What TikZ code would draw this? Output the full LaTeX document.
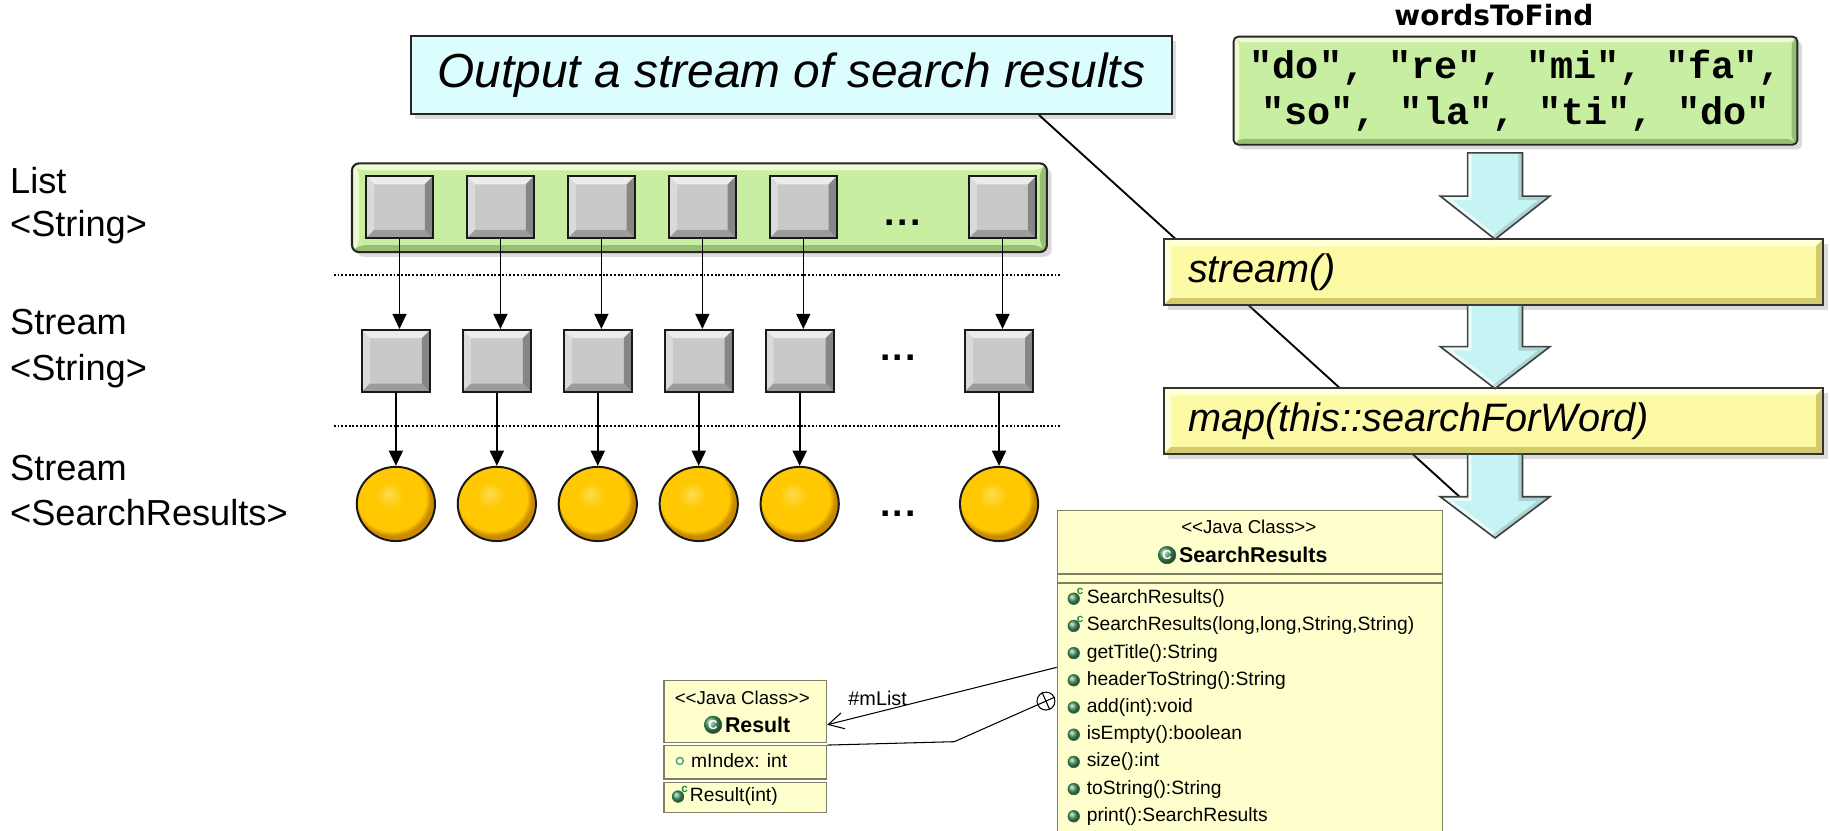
\documentclass[tikz,border=0pt]{standalone}
\usepackage{fontspec}
\setmainfont{Liberation Sans}
\newfontfamily\monob{Liberation Mono}
\newfontfamily\dejab{DejaVu Sans}
\newfontfamily\umlfont{Liberation Sans}
\usetikzlibrary{arrows.meta,shadows,shapes.geometric,calc}

\definecolor{sqgray}{HTML}{C9C9C9}
\definecolor{sqlight}{HTML}{ECECEC}
\definecolor{sqmidl}{HTML}{DADADA}
\definecolor{sqmidd}{HTML}{9C9C9C}
\definecolor{sqdark}{HTML}{868686}
\definecolor{grn}{HTML}{C8EEA2}
\definecolor{grnlight}{HTML}{EFFCD2}
\definecolor{grndark}{HTML}{98BD74}
\definecolor{yel}{HTML}{FCFAA4}
\definecolor{yellight}{HTML}{FFFFD8}
\definecolor{yeldark}{HTML}{D2CB6E}
\definecolor{cyanbox}{HTML}{DCFDFD}
\definecolor{arrcyan}{HTML}{C6F3F3}
\definecolor{umlfill}{HTML}{FFFFCE}
\definecolor{umlline}{HTML}{7F7F62}
\definecolor{icongreen}{HTML}{4E9F6A}
\definecolor{icondark}{HTML}{2E7046}
\definecolor{ctorgreen}{HTML}{1E8C3C}
\definecolor{ballc}{HTML}{FFC800}
\definecolor{ballhi}{HTML}{FFDC50}
\definecolor{balldark}{HTML}{C98A00}

\pgfdeclareradialshading{ballshade}{\pgfpoint{-5bp}{7bp}}{color(0bp)=(ballhi); color(9bp)=(ballc); color(22bp)=(ballc); color(25bp)=(balldark); color(50bp)=(balldark)}

\newcommand\fatarrow[4]{%
  \filldraw[fatarr, path picture={
      \draw[white, line width=7pt, opacity=0.6] (#1-23.5,#2) -- (#1-23.5,#3) -- (#1-47,#3) -- (#1,#4);
      \draw[black, line width=7pt, opacity=0.13] (#1+23.5,#2) -- (#1+23.5,#3) -- (#1+47,#3) -- (#1,#4);
    }] (#1-23.5,#2) -- (#1+23.5,#2) -- (#1+23.5,#3) -- (#1+47,#3) -- (#1,#4) -- (#1-47,#3) -- (#1-23.5,#3) -- cycle;}

\tikzset{
  bevel/.style n args={5}{path picture={
    \coordinate (bNW) at (path picture bounding box.north west);
    \coordinate (bSE) at (path picture bounding box.south east);
    \coordinate (bNE) at (bNW -| bSE);
    \coordinate (bSW) at (bNW |- bSE);
    \coordinate (iNW) at ([xshift=#5pt,yshift=-#5pt]bNW);
    \coordinate (iNE) at ([xshift=-#5pt,yshift=-#5pt]bNE);
    \coordinate (iSE) at ([xshift=-#5pt,yshift=#5pt]bSE);
    \coordinate (iSW) at ([xshift=#5pt,yshift=#5pt]bSW);
    \fill[#1] (bNW) -- (bNE) -- (iNE) -- (iNW) -- cycle;
    \fill[#2] (bNW) -- (iNW) -- (iSW) -- (bSW) -- cycle;
    \fill[#3] (bSW) -- (iSW) -- (iSE) -- (bSE) -- cycle;
    \fill[#4] (bNE) -- (bSE) -- (iSE) -- (iNE) -- cycle;
  }},
  shad/.style={drop shadow={shadow xshift=4pt,shadow yshift=-4pt,opacity=0.28}},
  sqbox/.style={rectangle, draw=black!90, line width=1.8pt, fill=sqgray, inner sep=0pt,
    minimum width=57.4pt, minimum height=53pt, bevel={sqlight}{sqmidl}{sqmidd}{sqdark}{7}},
  sqboxb/.style={sqbox, minimum width=58.5pt, minimum height=52.8pt},
  contbox/.style={rectangle, rounded corners=6pt, draw=black!85, line width=1.8pt, fill=grn,
    minimum width=595.4pt, minimum height=76pt, inner sep=0pt, shad,
    bevel={grnlight}{grnlight}{grndark}{grndark}{6}},
  ballnode/.style={ellipse, draw=black!90, line width=1.7pt, shade, shading=ballshade,
    minimum width=67pt, minimum height=63.6pt, inner sep=0pt},
  arr/.style={line width=1.4pt, -{Triangle[length=13pt,width=12pt]}},
  dotline/.style={line width=1.5pt, dash pattern=on 1.6pt off 1.6pt},
  dots/.style={inner sep=0pt, font=\bfseries\fontsize{32}{36}\selectfont},
  lbl/.style={anchor=base west, inner sep=0pt, font=\fontsize{31}{36}\selectfont},
  calloutbox/.style={rectangle, draw=black!85, line width=1.5pt, fill=cyanbox, shad,
    minimum width=652pt, minimum height=67pt, inner sep=0pt,
    font=\fontsize{41}{48}\selectfont\itshape},
  wordsbox/.style={rectangle, rounded corners=4pt, draw=black!85, line width=1.6pt, fill=grn, shad,
    bevel={grnlight}{grnlight}{grndark}{grndark}{5},
    minimum width=483pt, minimum height=92.6pt, inner sep=0pt, align=center,
    font=\monob\bfseries\fontsize{33}{39}\selectfont},
  yelbox/.style={rectangle, draw=black!80, line width=1.6pt, fill=yel, shad,
    bevel={yellight}{yellight}{yeldark}{yeldark}{6},
    minimum height=56.4pt, text width=523pt, inner xsep=21pt, inner ysep=0pt, align=left,
    font=\fontsize{34}{40}\selectfont\itshape},
  fatarr/.style={fill=arrcyan, draw=black!75, line width=1.4pt, line join=miter},
  calloutline/.style={line width=1.6pt, black},
  umlbox/.style={rectangle, draw=umlline, line width=1pt, fill=umlfill, inner sep=0pt, anchor=north west},
  member/.style={anchor=west, inner sep=0pt, font=\umlfont\fontsize{16.5}{20}\selectfont},
  stereo/.style={inner sep=0pt, font=\umlfont\fontsize{16}{20}\selectfont},
  cname/.style={anchor=west, inner sep=0pt, font=\umlfont\bfseries\fontsize{18.3}{22}\selectfont},
  micon/.style={circle, inner sep=0pt, minimum size=10pt, ball color=icongreen, draw=icondark, line width=0.5pt},
  cicon/.style={circle, inner sep=0pt, minimum size=15pt, ball color=icongreen, draw=icondark, line width=0.5pt,
    text=white, font=\umlfont\bfseries\fontsize{11}{11}\selectfont},
  ficon/.style={circle, inner sep=0pt, minimum size=6pt, fill=white, draw=icongreen, line width=1.2pt},
  ctorc/.style={inner sep=0pt, text=ctorgreen, font=\umlfont\bfseries\fontsize{10}{10}\selectfont},
  umlconn/.style={line width=0.9pt, black},
  nestc/.style={circle, draw=black, fill=white, line width=0.9pt, minimum size=15.4pt, inner sep=0pt},
}

\begin{document}
\begin{tikzpicture}[x=1pt,y=-1pt]
\useasboundingbox (0,0) rectangle (1568,712);
\fill[white] (0,0) rectangle (1568,712);

% row labels
\node[lbl] (l1a) at (8.5,165.6) {List};
\node[lbl] (l1b) at (8.5,203) {<String>};
\node[lbl] (l2a) at (8.5,287) {Stream};
\node[lbl] (l2b) at (8.5,326) {<String>};
\node[lbl] (l3a) at (8.5,412) {Stream};
\node[lbl] (l3b) at (8.5,450) {<SearchResults>};

% separators
\draw[dotline] (286,235.7) -- (908,235.7);
\draw[dotline] (286,364.7) -- (908,364.7);

% list container
\node[contbox] (list) at (599.3,178) {};

\foreach \k in {0,...,4} {
  \node[sqbox] (a\k) at (342.3+86.5*\k,177.5) {};
  \node[sqboxb] (b\k) at (339.2+86.5*\k,309.2) {};
  \node[ballnode] (c\k) at (339.2+86.5*\k,431.8) {};
}
\node[sqbox] (a6) at (859,177.5) {};
\node[sqboxb] (b6) at (856,309.2) {};
\node[ballnode] (c6) at (856,431.8) {};

\foreach \k in {0,1,2,3,4,6} {
  \draw[arr] (a\k.south) -- (a\k.south |- b\k.north);
  \draw[arr] (b\k.south) -- (b\k.south |- c\k.north);
}

\node[dots] (d1) at (773.5,191) {.\kern2pt.\kern2pt.};
\node[dots] (d2) at (769.5,306.7) {.\kern2pt.\kern2pt.};
\node[dots] (d3) at (769.5,440) {.\kern2pt.\kern2pt.};

% callout
\node[calloutbox] (callout) at (678,64.3) {Output a stream of search results};
\coordinate (cend) at (1251,426);
\draw[calloutline] ([xshift=539pt]callout.south west) -- (cend);

% right pipeline
\node[font=\dejab\bfseries\fontsize{24}{28}\selectfont, anchor=base, inner sep=0pt] (wtf) at (1280,22) {wordsToFind};
\node[wordsbox] (words) at (1298.5,77.7) {"do", "re", "mi", "fa",\\"so", "la", "ti", "do"};
\node[yelbox] (stream) at (1279.5,233.2) {stream()};
\node[yelbox] (map) at (1279.5,361) {map(this::searchForWord)};
\fatarrow{1281}{131}{168}{205}
\fatarrow{1281}{261.4}{297}{333}
\fatarrow{1281}{389}{425.6}{461}

% UML SearchResults
\node[umlbox, minimum width=329.9pt, minimum height=53.7pt] (shead) at (905.4,437) {};
\node[umlbox, minimum width=329.9pt, minimum height=6.9pt] (sattr) at (905.4,491.5) {};
\node[umlbox, minimum width=329.9pt, minimum height=230pt] (smeth) at (905.4,499.5) {};
\node[stereo] (sst) at (1070,451.3) {<<Java Class>>};
\node[cicon] (sic) at (1000,475.6) {C};
\node[cname] (sname) at (1010,475.6) {SearchResults};
\foreach [count=\i from 0] \t/\c in {SearchResults()/1, {SearchResults(long,long,String,String)}/1,
   getTitle():String/0, headerToString():String/0, add(int):void/0, isEmpty():boolean/0,
   size():int/0, toString():String/0, print():SearchResults/0} {
  \pgfmathsetmacro\yy{513+23.3*\i}
  \node[micon] (sm\i) at (920,\yy) {};
  \node[member] (st\i) at (931,\yy) {\t};
  \ifnum\c=1 \node[ctorc] (sc\i) at (925.5,\yy-6) {c}; \fi
}

% UML Result
\node[umlbox, minimum width=139.4pt, minimum height=52.8pt] (rhead) at (568.4,582.7) {};
\node[umlbox, minimum width=139.4pt, minimum height=28.5pt] (rattr) at (568.4,638.4) {};
\node[umlbox, minimum width=139.4pt, minimum height=26pt] (rmeth) at (568.4,669.8) {};
\node[stereo] (rst) at (636,598) {<<Java Class>>};
\node[cicon] (ric) at (611,621) {C};
\node[cname] (rname) at (621,621) {Result};
\node[ficon] (rfi) at (582.5,652) {};
\node[member] (rft) at (592,652) {mIndex: int};
\node[micon] (rmi) at (581,682.5) {};
\node[ctorc] (rmc) at (586.5,676.5) {c};
\node[member] (rmt) at (591,682.5) {Result(int)};

% UML connectors
\draw[umlconn, -{Straight Barb[length=13pt,width=14pt]}] ([yshift=-72.3pt]smeth.north west) -- ([yshift=-11.4pt]rhead.east);
\node[inner sep=0pt, font=\umlfont\fontsize{17}{20}\selectfont] (mlist) at (752,598) {\#mList};
\coordinate (nvtx) at (817.7,635.5);
\node[nestc] (nest) at (896.2,600.7) {};
\draw[umlconn] (rattr.north east) -- (nvtx) -- (nest.204);
\draw[umlconn] (nest.24) -- (nest.204) (nest.114) -- (nest.294);
\end{tikzpicture}
\end{document}
